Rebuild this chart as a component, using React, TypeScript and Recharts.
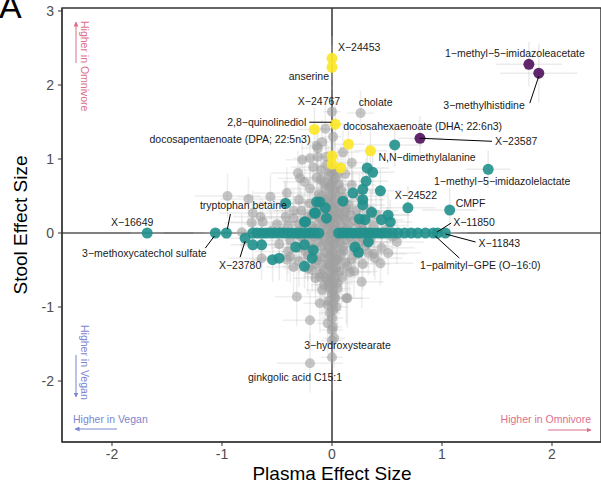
import React from "react";
import {
  ScatterChart,
  Scatter,
  XAxis,
  YAxis,
  CartesianGrid,
  ReferenceArea,
  ErrorBar,
} from "recharts";

// [plasma effect, stool effect, plasma error, stool error]
const grayRows: number[][] = [
  [0.0, 1.64, 0.08, 0.35], [0.26, 1.62, 0.12, 0.3], [-0.06, 1.41, 0.1, 0.3],
  [0.01, 1.3, 0.08, 0.3], [-0.09, 1.23, 0.12, 0.3], [-0.13, 1.15, 0.15, 0.3],
  [-0.2, 1.01, 0.15, 0.3], [-0.13, 1.03, 0.1, 0.25], [-0.05, 1.03, 0.1, 0.25],
  [-0.14, 1.18, 0.1, 0.25], [-0.27, 0.99, 0.15, 0.3], [0.1, 1.09, 0.15, 0.3],
  [0.18, 0.95, 0.12, 0.3], [-0.95, 0.5, 0.3, 0.3], [-0.76, 0.46, 0.25, 0.3],
  [-0.56, 0.49, 0.3, 0.3], [-0.41, 0.54, 0.3, 0.35], [-0.31, 0.81, 0.25, 0.3],
  [-0.29, 0.74, 0.2, 0.3], [-0.25, 0.69, 0.2, 0.3], [-0.17, 0.89, 0.2, 0.3],
  [-0.43, 0.41, 0.25, 0.3], [-0.72, 0.27, 0.3, 0.3], [-0.63, 0.15, 0.3, 0.3],
  [-0.65, 0.22, 0.25, 0.25], [-0.73, 0.14, 0.25, 0.25], [-0.82, 0.01, 0.3, 0.25],
  [-0.64, -0.34, 0.3, 0.3], [-0.38, -0.32, 0.25, 0.35], [-0.35, -0.46, 0.25, 0.35],
  [-0.32, -0.86, 0.2, 0.4], [-0.18, -0.5, 0.2, 0.3], [-0.15, -0.61, 0.2, 0.35],
  [-0.41, -0.36, 0.3, 0.3], [0.59, -0.12, 0.25, 0.3], [0.33, -0.27, 0.25, 0.3],
  [0.39, -0.34, 0.25, 0.3], [0.44, -0.41, 0.3, 0.3], [0.51, -0.27, 0.3, 0.3],
  [0.16, -0.53, 0.2, 0.35], [0.27, -0.66, 0.2, 0.35], [0.14, -0.88, 0.2, 0.4],
  [-0.2, -1.18, 0.25, 0.4], [0.0, -1.15, 0.1, 0.4], [0.0, -1.31, 0.1, 0.4],
  [0.01, -1.27, 0.08, 0.4], [0.0, -1.45, 0.1, 0.4], [0.02, -1.42, 0.1, 0.4],
  [0.0, -1.68, 0.1, 0.45], [-0.2, -1.76, 0.3, 0.4], [0.13, -0.88, 0.15, 0.35],
  [-0.04, -0.97, 0.1, 0.4], [0.01, -0.95, 0.08, 0.4], [0.01, -1.04, 0.08, 0.4],
  [-0.04, -1.22, 0.1, 0.4], [-0.11, -0.59, 0.15, 0.35], [-0.09, -0.77, 0.15, 0.35],
  [-0.11, -0.95, 0.15, 0.4],
];

// dense cloud around the origin
const cloudRows: number[][] = [
  [0.02, 0.85, 0.1, 0.4], [-0.03, 0.78, 0.1, 0.4], [0.01, 0.7, 0.12, 0.4],
  [-0.02, 0.62, 0.1, 0.4], [0.03, 0.55, 0.12, 0.4], [-0.04, 0.48, 0.15, 0.4],
  [0.02, 0.42, 0.12, 0.4], [-0.01, 0.36, 0.15, 0.4], [0.04, 0.3, 0.15, 0.4],
  [-0.03, 0.25, 0.15, 0.4], [0.01, 0.2, 0.2, 0.4], [-0.02, 0.15, 0.2, 0.4],
  [0.03, 0.1, 0.2, 0.4], [-0.04, 0.05, 0.2, 0.4], [0.0, 0.0, 0.2, 0.4],
  [0.04, -0.05, 0.2, 0.4], [-0.02, -0.1, 0.2, 0.4], [0.02, -0.15, 0.2, 0.4],
  [-0.03, -0.2, 0.15, 0.45], [0.01, -0.26, 0.15, 0.45], [-0.01, -0.32, 0.12, 0.45],
  [0.03, -0.38, 0.12, 0.45], [-0.02, -0.45, 0.12, 0.45], [0.02, -0.52, 0.1, 0.45],
  [-0.01, -0.6, 0.1, 0.45], [0.01, -0.68, 0.1, 0.45], [-0.02, -0.75, 0.1, 0.45],
  [0.0, -0.82, 0.08, 0.45], [-0.12, 0.52, 0.2, 0.35], [0.1, 0.48, 0.2, 0.35],
  [-0.2, 0.4, 0.25, 0.35], [0.15, 0.38, 0.2, 0.3], [-0.08, 0.42, 0.2, 0.35],
  [0.07, 0.35, 0.2, 0.35], [-0.28, 0.3, 0.25, 0.3], [-0.15, 0.31, 0.2, 0.3],
  [0.12, 0.28, 0.2, 0.3], [0.22, 0.3, 0.25, 0.3], [-0.35, 0.2, 0.3, 0.3],
  [-0.22, 0.22, 0.25, 0.3], [-0.1, 0.18, 0.2, 0.3], [0.1, 0.22, 0.2, 0.3],
  [0.2, 0.17, 0.25, 0.3], [0.3, 0.2, 0.25, 0.3], [-0.4, 0.1, 0.3, 0.3],
  [-0.3, 0.12, 0.25, 0.3], [-0.18, 0.09, 0.25, 0.3], [0.15, 0.11, 0.25, 0.3],
  [0.27, 0.08, 0.3, 0.3], [0.38, 0.1, 0.3, 0.3], [-0.45, 0.02, 0.3, 0.3],
  [-0.32, -0.02, 0.3, 0.3], [-0.2, 0.01, 0.25, 0.3], [-0.1, -0.03, 0.25, 0.3],
  [0.1, 0.02, 0.25, 0.3], [0.2, -0.02, 0.25, 0.3], [0.33, 0.01, 0.3, 0.3],
  [0.45, -0.01, 0.3, 0.3], [-0.38, -0.1, 0.3, 0.3], [-0.25, -0.08, 0.25, 0.3],
  [-0.12, -0.12, 0.25, 0.35], [0.12, -0.09, 0.25, 0.35], [0.25, -0.12, 0.25, 0.3],
  [0.35, -0.08, 0.3, 0.3], [-0.3, -0.2, 0.25, 0.35], [-0.18, -0.22, 0.25, 0.35],
  [0.1, -0.19, 0.2, 0.35], [0.2, -0.23, 0.25, 0.35], [0.3, -0.18, 0.25, 0.3],
  [-0.22, -0.3, 0.25, 0.35], [-0.1, -0.33, 0.2, 0.4], [0.08, -0.29, 0.2, 0.4],
  [0.18, -0.35, 0.2, 0.35], [-0.15, -0.42, 0.2, 0.4], [0.12, -0.4, 0.2, 0.4],
  [-0.08, -0.5, 0.15, 0.4], [0.07, -0.52, 0.15, 0.4], [-0.06, 0.6, 0.15, 0.35],
  [0.06, 0.66, 0.15, 0.35], [-0.1, 0.72, 0.15, 0.35], [0.05, 0.2, 0.2, 0.4],
  [-0.06, -0.6, 0.12, 0.4], [0.05, -0.68, 0.12, 0.4],
  [-0.05, 0.92, 0.12, 0.35], [0.05, 0.8, 0.12, 0.35], [-0.07, 0.68, 0.15, 0.35],
  [0.08, 0.58, 0.15, 0.35], [-0.09, 0.5, 0.18, 0.35], [0.09, 0.42, 0.18, 0.35],
  [-0.13, 0.36, 0.2, 0.35], [0.13, 0.33, 0.2, 0.35], [-0.06, 0.3, 0.2, 0.4],
  [0.06, 0.26, 0.2, 0.4], [-0.18, 0.25, 0.22, 0.35], [0.17, 0.24, 0.22, 0.35],
  [-0.12, 0.22, 0.2, 0.35], [0.12, 0.18, 0.2, 0.35], [-0.25, 0.16, 0.25, 0.3],
  [0.24, 0.13, 0.25, 0.3], [-0.08, 0.13, 0.2, 0.4], [0.08, 0.1, 0.2, 0.4],
  [-0.15, 0.06, 0.22, 0.35], [0.14, 0.05, 0.22, 0.35], [-0.27, 0.05, 0.25, 0.3],
  [0.28, 0.04, 0.25, 0.3], [-0.06, 0.08, 0.2, 0.4], [0.06, -0.02, 0.2, 0.4],
  [-0.16, -0.04, 0.22, 0.35], [0.16, -0.05, 0.22, 0.35], [-0.28, -0.05, 0.25, 0.3],
  [0.27, -0.06, 0.25, 0.3], [-0.07, -0.07, 0.2, 0.4], [0.07, -0.12, 0.2, 0.4],
  [-0.2, -0.14, 0.22, 0.35], [0.19, -0.15, 0.22, 0.35], [-0.1, -0.18, 0.2, 0.4],
  [0.1, -0.24, 0.2, 0.4], [-0.24, -0.25, 0.22, 0.35], [0.24, -0.28, 0.22, 0.35],
  [-0.06, -0.27, 0.18, 0.4], [0.05, -0.35, 0.18, 0.4], [-0.13, -0.37, 0.2, 0.4],
  [0.14, -0.45, 0.2, 0.4], [-0.05, -0.42, 0.15, 0.4], [0.04, -0.47, 0.15, 0.4],
  [-0.1, -0.55, 0.15, 0.4], [0.09, -0.6, 0.15, 0.4], [-0.04, -0.65, 0.12, 0.45],
  [0.05, -0.75, 0.12, 0.45], [-0.07, -0.7, 0.12, 0.45], [0.03, -0.88, 0.1, 0.45],
  [-0.03, -0.92, 0.1, 0.45], [0.04, -1.0, 0.1, 0.45], [-0.02, -1.08, 0.1, 0.45],
  [-0.35, 0.3, 0.25, 0.3], [0.35, 0.3, 0.25, 0.3], [-0.42, 0.22, 0.3, 0.3],
  [0.4, 0.25, 0.3, 0.3], [-0.5, 0.12, 0.3, 0.3], [0.5, 0.05, 0.3, 0.3],
  [-0.55, 0.03, 0.3, 0.25], [0.55, -0.05, 0.3, 0.25], [-0.48, -0.15, 0.3, 0.3],
  [0.45, -0.2, 0.3, 0.3], [-0.4, -0.25, 0.3, 0.3], [0.38, -0.28, 0.3, 0.3],
  [-0.3, -0.38, 0.25, 0.35], [0.28, -0.42, 0.25, 0.35], [-0.22, -0.48, 0.22, 0.35],
  [0.2, -0.52, 0.22, 0.35], [-0.3, 0.45, 0.25, 0.3], [0.25, 0.5, 0.25, 0.3],
  [-0.2, 0.6, 0.22, 0.3], [0.18, 0.65, 0.22, 0.3], [-0.14, 0.75, 0.2, 0.3],
  [0.12, 0.8, 0.2, 0.3], [-0.1, 0.85, 0.2, 0.3],
  [0.01, 0.05, 0.2, 0.45], [-0.01, -0.02, 0.2, 0.45], [0.02, 0.12, 0.2, 0.45],
  [-0.03, 0.18, 0.2, 0.45], [0.03, 0.22, 0.18, 0.45], [-0.02, 0.28, 0.18, 0.45],
  [0.02, 0.33, 0.18, 0.45], [-0.04, 0.4, 0.15, 0.45], [0.04, 0.45, 0.15, 0.45],
  [-0.01, 0.5, 0.15, 0.45], [0.02, 0.58, 0.12, 0.45], [-0.02, 0.66, 0.12, 0.45],
  [0.03, 0.74, 0.12, 0.45], [-0.01, 0.82, 0.1, 0.45], [0.03, -0.1, 0.2, 0.45],
  [-0.04, -0.15, 0.2, 0.45], [0.02, -0.22, 0.18, 0.45], [-0.02, -0.3, 0.18, 0.45],
  [0.04, -0.36, 0.15, 0.45], [-0.03, -0.42, 0.15, 0.45], [0.01, -0.48, 0.15, 0.45],
  [-0.01, -0.56, 0.12, 0.45], [0.03, -0.62, 0.12, 0.45], [-0.03, -0.7, 0.12, 0.45],
  [0.01, -0.78, 0.1, 0.45], [0.02, -0.86, 0.1, 0.45],
];

// plasma-only hits (stool effect 0) and plasma hits with some stool effect
const tealRows: number[][] = [
  [-1.68, 0, 0.15, 0.05], [-1.06, 0, 0.2, 0.05], [-0.96, 0, 0.2, 0.05],
  [-0.79, -0.07, 0.2, 0.1], [-0.72, 0, 0.2, 0.05], [-0.68, 0, 0.2, 0.05],
  [-0.64, 0, 0.2, 0.05], [-0.6, 0, 0.2, 0.05], [-0.56, 0, 0.2, 0.05],
  [-0.52, 0, 0.2, 0.05], [-0.48, 0, 0.2, 0.05], [-0.44, 0, 0.2, 0.05],
  [-0.4, 0, 0.2, 0.05], [-0.36, 0, 0.2, 0.05], [-0.32, 0, 0.2, 0.05],
  [-0.28, 0, 0.2, 0.05], [-0.24, 0, 0.2, 0.05], [-0.2, 0, 0.2, 0.05],
  [-0.16, 0, 0.2, 0.05], [-0.12, 0, 0.2, 0.05], [0.06, 0, 0.2, 0.05],
  [0.1, 0, 0.2, 0.05], [0.14, 0, 0.2, 0.05], [0.18, 0, 0.2, 0.05],
  [0.22, 0, 0.2, 0.05], [0.26, 0, 0.2, 0.05], [0.3, 0, 0.2, 0.05],
  [0.34, 0, 0.2, 0.05], [0.38, 0, 0.2, 0.05], [0.42, 0, 0.2, 0.05],
  [0.46, 0, 0.2, 0.05], [0.5, 0, 0.2, 0.05], [0.55, 0, 0.2, 0.05],
  [0.6, 0, 0.2, 0.05], [0.66, 0, 0.2, 0.05], [0.72, 0, 0.2, 0.05],
  [0.78, 0, 0.2, 0.05], [0.85, 0, 0.2, 0.05], [0.92, 0, 0.2, 0.05],
  [0.96, 0, 0.2, 0.05], [1.03, 0, 0.2, 0.05],
  [0.32, 0.88, 0.2, 0.3], [0.37, 0.82, 0.2, 0.3], [0.31, 0.7, 0.2, 0.3],
  [0.28, 0.59, 0.2, 0.3], [0.44, 0.57, 0.2, 0.3], [0.19, 0.54, 0.2, 0.3],
  [0.28, 0.45, 0.2, 0.3], [0.1, 0.43, 0.2, 0.3], [-0.11, 0.42, 0.2, 0.3],
  [0.28, 0.38, 0.2, 0.3], [0.36, 0.28, 0.2, 0.3], [0.51, 0.24, 0.2, 0.3],
  [0.45, 0.18, 0.2, 0.3], [0.53, 0.15, 0.2, 0.3], [0.3, 0.18, 0.2, 0.3],
  [0.25, 0.19, 0.2, 0.3], [-0.16, 0.27, 0.2, 0.3], [-0.25, 0.15, 0.2, 0.3],
  [0.69, 0.34, 0.25, 0.3], [0.57, 1.19, 0.25, 0.3], [1.07, 0.31, 0.25, 0.3],
  [1.42, 0.86, 0.2, 0.25], [-0.42, 0.4, 0.2, 0.3], [-0.14, 0.42, 0.2, 0.3],
  [-0.24, 0.15, 0.2, 0.3], [-0.15, 0.27, 0.2, 0.3], [-0.06, 0.34, 0.2, 0.3],
  [-0.05, 0.2, 0.2, 0.3], [-0.72, -0.16, 0.2, 0.3], [-0.64, -0.16, 0.2, 0.3],
  [-0.54, -0.36, 0.2, 0.3], [-0.48, -0.34, 0.2, 0.3], [-0.33, -0.19, 0.2, 0.3],
  [-0.25, -0.16, 0.2, 0.3], [-0.25, -0.45, 0.2, 0.3], [-0.17, -0.23, 0.2, 0.3],
  [-0.18, -0.34, 0.2, 0.3], [0.21, -0.19, 0.2, 0.3], [0.24, -0.26, 0.2, 0.3],
  [0.33, -0.12, 0.2, 0.3],
];

// stool-only hits
const yellowRows: number[][] = [
  [0.0, 2.36, 0.05, 0.3], [0.0, 2.24, 0.05, 0.3], [0.03, 1.47, 0.08, 0.3],
  [-0.16, 1.4, 0.15, 0.3], [0.15, 1.2, 0.15, 0.3], [0.35, 1.11, 0.15, 0.3],
  [0.0, 1.04, 0.08, 0.3], [0.0, 0.93, 0.08, 0.3], [0.08, 0.88, 0.1, 0.3],
];

// hits in both
const purpleRows: number[][] = [
  [1.79, 2.28, 0.3, 0.3], [1.88, 2.16, 0.35, 0.4], [0.8, 1.28, 0.2, 0.3],
];

const labelRows: [string, number, number][] = [
  ["X−24453", 0.0, 2.36],
  ["anserine", 0.0, 2.24],
  ["X−24767", 0.0, 1.64],
  ["cholate", 0.26, 1.62],
  ["2,8−quinolinediol", 0.03, 1.47],
  ["docosahexaenoate (DHA; 22:6n3)", 0.03, 1.47],
  ["docosapentaenoate (DPA; 22:5n3)", -0.16, 1.4],
  ["N,N−dimethylalanine", 0.35, 1.11],
  ["X−23587", 0.8, 1.28],
  ["1−methyl−5−imidazoleacetate", 1.79, 2.28],
  ["3−methylhistidine", 1.88, 2.16],
  ["1−methyl−5−imidazolelactate", 1.42, 0.86],
  ["X−24522", 0.69, 0.34],
  ["CMPF", 1.07, 0.31],
  ["X−11850", 0.92, 0],
  ["X−11843", 0.96, 0],
  ["1−palmityl−GPE (O−16:0)", 1.03, 0],
  ["X−16649", -1.68, 0],
  ["tryptophan betaine", -0.96, 0],
  ["3−methoxycatechol sulfate", -1.06, 0],
  ["X−23780", -0.79, -0.07],
  ["3−hydroxystearate", 0.02, -1.42],
  ["ginkgolic acid C15:1", -0.2, -1.76],
];

const xTicks = [-2, -1, 0, 1, 2];
const yTicks = [-2, -1, 0, 1, 2, 3];

type Layout = {
  dx: number;
  dy: number;
  anchor: "start" | "middle" | "end";
  leader?: [number, number, number, number];
};

const LABEL_LAYOUT: Record<string, Layout> = {
  "X−24453": { dx: 6, dy: -11, anchor: "start" },
  anserine: { dx: -3, dy: 9, anchor: "end" },
  "X−24767": { dx: -13, dy: -11, anchor: "middle" },
  cholate: { dx: 15, dy: -11, anchor: "middle" },
  "2,8−quinolinediol": { dx: -29, dy: -2, anchor: "end", leader: [-26, -2, -4, -2] },
  "docosahexaenoate (DHA; 22:6n3)": { dx: 8, dy: 2, anchor: "start" },
  "docosapentaenoate (DPA; 22:5n3)": { dx: -4, dy: 10, anchor: "end" },
  "N,N−dimethylalanine": { dx: 8, dy: 6, anchor: "start" },
  "X−23587": { dx: 75, dy: 3, anchor: "start", leader: [0, 0, 72, 3] },
  "1−methyl−5−imidazoleacetate": { dx: -14, dy: -11, anchor: "middle" },
  "3−methylhistidine": { dx: -14, dy: 32, anchor: "end", leader: [0, 3, -9, 30] },
  "1−methyl−5−imidazolelactate": { dx: 14, dy: 12, anchor: "middle" },
  "X−24522": { dx: 8, dy: -13, anchor: "middle" },
  CMPF: { dx: 6, dy: -7, anchor: "start" },
  "X−11850": { dx: 20, dy: -11, anchor: "start", leader: [4, -1, 18, -10] },
  "X−11843": { dx: 41, dy: 10, anchor: "start", leader: [8, 1, 38, 9] },
  "1−palmityl−GPE (O−16:0)": { dx: 35, dy: 32, anchor: "middle", leader: [-10, 3, 14, 25] },
  "X−16649": { dx: -15, dy: -11, anchor: "middle" },
  "tryptophan betaine": { dx: 17, dy: -28, anchor: "middle", leader: [1, -4, 4, -19] },
  "3−methoxycatechol sulfate": { dx: -71, dy: 20, anchor: "middle", leader: [-1, 3, -10, 15] },
  "X−23780": { dx: -5, dy: 27, anchor: "middle", leader: [0, 3, -5, 19] },
  "3−hydroxystearate": { dx: -30, dy: 7, anchor: "start" },
  "ginkgolic acid C15:1": { dx: -15, dy: 14, anchor: "middle" },
};

const FONT = "'Liberation Sans', Arial, Helvetica, sans-serif";
const PINK = "#dc6f8c";
const BLUE = "#7d85cf";

const toPts = (rows: number[][]) =>
  rows.map(([x, y, ex, ey]) => ({ x, y, ex, ey }));

const dot = (fill: string, opacity: number, r = 5.5) => (p: any) => (
  <circle cx={p.cx} cy={p.cy} r={r} fill={fill} fillOpacity={opacity} />
);

const LabelShape = (p: any) => {
  const l = LABEL_LAYOUT[p.payload?.name];
  if (!l) return <g />;
  return (
    <g>
      {l.leader && (
        <line
          x1={p.cx + l.leader[0]}
          y1={p.cy + l.leader[1]}
          x2={p.cx + l.leader[2]}
          y2={p.cy + l.leader[3]}
          stroke="#000"
          strokeWidth={1}
        />
      )}
      <text
        x={p.cx + l.dx}
        y={p.cy + l.dy}
        textAnchor={l.anchor}
        dominantBaseline="central"
        fontSize={10.5}
        fontFamily={FONT}
        fill="#1a1a1a"
      >
        {p.payload.name}
      </text>
    </g>
  );
};

const errBars = (opacity = 0.3) => [
  <ErrorBar key="ex" dataKey="ex" direction="x" width={0} stroke="#bdbdbd" strokeOpacity={opacity} />,
  <ErrorBar key="ey" dataKey="ey" direction="y" width={0} stroke="#bdbdbd" strokeOpacity={opacity} />,
];

export default function App() {
  const gray = toPts([...grayRows, ...cloudRows]);
  const teal = toPts(tealRows);
  const yellow = toPts(yellowRows);
  const purple = toPts(purpleRows);
  const labels = labelRows.map(([name, x, y]) => ({ name, x, y }));

  return (
    <div style={{ position: "absolute", left: 0, top: 0, width: 601, height: 485, background: "#fff" }}>
      <ScatterChart width={601} height={485} margin={{ top: 8, right: 0, bottom: 0, left: 0 }}>
        {/* zero lines drawn under the points */}
        <CartesianGrid
          horizontalValues={[0]}
          verticalValues={[0]}
          stroke="#000"
          strokeWidth={1.2}
          strokeDasharray=""
        />
        <XAxis
          type="number"
          dataKey="x"
          domain={[-2.4545, 2.4455]}
          ticks={xTicks}
          allowDataOverflow
          height={43}
          tickSize={4}
          tickMargin={3}
          stroke="#333"
          tick={{ fill: "#4d4d4d", fontSize: 14, fontFamily: FONT }}
        />
        <YAxis
          type="number"
          dataKey="y"
          domain={[-2.824, 3.0405]}
          ticks={yTicks}
          allowDataOverflow
          width={62}
          tickSize={4}
          tickMargin={4}
          stroke="#333"
          tick={{ fill: "#4d4d4d", fontSize: 14, fontFamily: FONT }}
        />
        <ReferenceArea
          x1={-2.4545}
          x2={2.4455}
          y1={-2.824}
          y2={3.0405}
          fill="none"
          stroke="#333"
          strokeWidth={1.5}
        />
        <Scatter data={gray} shape={dot("#a0a0a0", 0.6, 5)} isAnimationActive={false}>
          {errBars(0.25)}
        </Scatter>
        <Scatter data={teal} shape={dot("#21908C", 0.9)} isAnimationActive={false}>
          {errBars()}
        </Scatter>
        <Scatter data={yellow} shape={dot("#FDE725", 0.9)} isAnimationActive={false}>
          {errBars()}
        </Scatter>
        <Scatter data={purple} shape={dot("#440154", 0.85)} isAnimationActive={false}>
          {errBars()}
        </Scatter>
        <Scatter data={labels} shape={LabelShape} isAnimationActive={false} />
      </ScatterChart>
      <svg
        width={601}
        height={485}
        style={{ position: "absolute", left: 0, top: 0, pointerEvents: "none" }}
        fontFamily={FONT}
      >
        <defs>
          <marker id="hp" viewBox="0 0 10 10" refX="9" refY="5" markerWidth="5" markerHeight="5" orient="auto">
            <path d="M0,0 L10,5 L0,10 z" fill={PINK} />
          </marker>
          <marker id="hb" viewBox="0 0 10 10" refX="9" refY="5" markerWidth="5" markerHeight="5" orient="auto">
            <path d="M0,0 L10,5 L0,10 z" fill={BLUE} />
          </marker>
        </defs>
        <text x={-1} y={18} fontSize={34} fill="#000">A</text>
        <text x={332} y={480} fontSize={19} textAnchor="middle" fill="#000">Plasma Effect Size</text>
        <text transform="translate(27,225) rotate(-90)" fontSize={19} textAnchor="middle" fill="#000">
          Stool Effect Size
        </text>
        <line x1={76} y1={63} x2={76} y2={22} stroke={PINK} strokeWidth={1} markerEnd="url(#hp)" />
        <text transform="translate(81,21) rotate(90)" fontSize={10.5} fill={PINK}>Higher in Omnivore</text>
        <line x1={76} y1={355} x2={76} y2={397} stroke={BLUE} strokeWidth={1} markerEnd="url(#hb)" />
        <text transform="translate(81,325) rotate(90)" fontSize={10.5} fill={BLUE}>Higher in Vegan</text>
        <text x={73} y={423} fontSize={10.5} fill={BLUE}>Higher in Vegan</text>
        <line x1={117} y1={429} x2={75} y2={429} stroke={BLUE} strokeWidth={1} markerEnd="url(#hb)" />
        <text x={591} y={423} fontSize={10.5} textAnchor="end" fill={PINK}>Higher in Omnivore</text>
        <line x1={548} y1={430} x2={591} y2={430} stroke={PINK} strokeWidth={1} markerEnd="url(#hp)" />
      </svg>
    </div>
  );
}
